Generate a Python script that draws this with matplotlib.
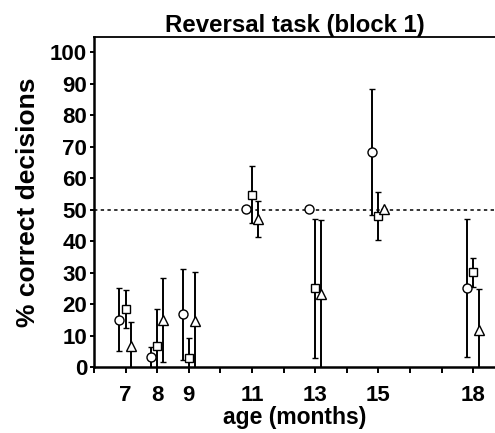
import matplotlib
matplotlib.use("Agg")
import matplotlib.pyplot as plt
import numpy as np

plt.rcParams["font.family"] = ["Liberation Sans", "DejaVu Sans"]
plt.rcParams["font.weight"] = "bold"

ages = [7, 8, 9, 11, 13, 15, 18]
tick_positions = list(range(6, 19))

# mean % correct and error (half-width) per group
circle_vals = [15.0, 3.1, 16.7, 50.1, 50.1, 68.2, 25.1]
circle_err = [10.0, 3.4, 14.5, 0.0, 0.0, 20.0, 22.0]
square_vals = [18.4, 6.7, 3.0, 54.7, 25.0, 48.0, 30.1]
square_err = [6.0, 11.7, 6.3, 9.0, 22.0, 7.6, 4.6]
triangle_vals = [6.8, 14.9, 14.7, 47.0, 23.1, 50.3, 11.7]
triangle_err = [7.4, 13.3, 15.6, 5.7, 23.5, 0.0, 13.0]

chance_level = 50

fig = plt.figure(figsize=(4.95, 4.33), dpi=100)
ax = fig.add_axes([0.19, 0.1524, 0.81, 0.762])

groups = [
    (circle_vals, circle_err, "o", -0.2, 6.5),
    (square_vals, square_err, "s", 0.0, 6.0),
    (triangle_vals, triangle_err, "^", 0.18, 6.5),
]
for vals, errs, marker, offset, ms in groups:
    x = np.array(ages) + offset
    ax.errorbar(x, vals, yerr=errs, fmt=marker, color="black", mfc="white",
                mec="black", mew=1.0, ms=ms, ecolor="black", elinewidth=1.4,
                capsize=2.5, capthick=1.4, zorder=3)

ax.axhline(chance_level, color="black", lw=1.1, ls=(0, (2.2, 2.2)), zorder=1)

ax.set_xlim(6, 18.69)
ax.set_ylim(0, 104.8)
ax.set_xticks(tick_positions)
ax.set_xticklabels([str(t) if t in ages else "" for t in tick_positions])
ax.set_yticks(range(0, 101, 10))

ax.spines["right"].set_visible(False)
ax.spines["left"].set_linewidth(1.8)
ax.spines["bottom"].set_linewidth(1.8)
ax.spines["top"].set_linewidth(1.3)

ax.tick_params(axis="x", direction="out", length=4, width=1.4, labelsize=16, pad=9)
ax.tick_params(axis="y", direction="out", length=3, width=1.4, labelsize=16, pad=2)
for lab in ax.get_xticklabels() + ax.get_yticklabels():
    lab.set_fontweight("bold")

ax.set_title("Reversal task (block 1)", fontsize=17.3, fontweight="bold", pad=2)
ax.set_xlabel("age (months)", fontsize=16.5, fontweight="bold", labelpad=0)
ax.set_ylabel("% correct decisions", fontsize=19, fontweight="bold", labelpad=7)

fig.savefig("out.png", dpi=100)
